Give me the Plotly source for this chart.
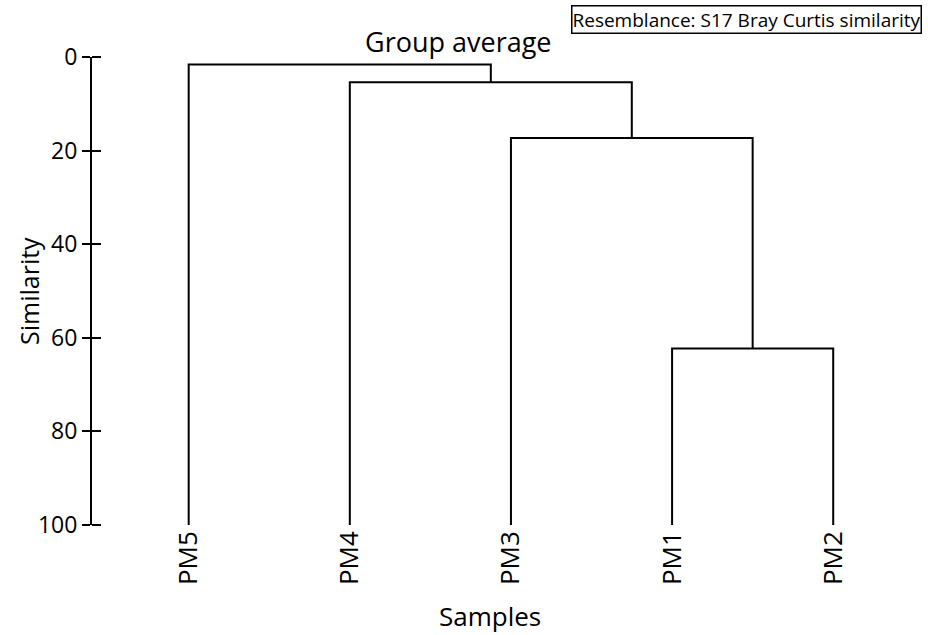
import plotly.graph_objects as go

# ---- data ----
leaves = ["PM5", "PM4", "PM3", "PM1", "PM2"]
# merges: (left member, right member, similarity level)
merge_left = ["PM1", "PM3", "PM4", "PM5"]
merge_right = ["PM2", "C1", "C2", "C3"]
merge_sim = [62.3, 17.3, 5.4, 1.6]
y_ticks = [0, 20, 40, 60, 80, 100]

FONT = "Open Sans"

# positions of nodes
pos = {name: float(i) for i, name in enumerate(leaves)}
height = {name: 100.0 for name in leaves}

fig = go.Figure()
line = dict(color="black", width=2)

for k, (a, b, s) in enumerate(zip(merge_left, merge_right, merge_sim)):
    xa, xb = pos[a], pos[b]
    xs = [xa, xa, xb, xb]
    ys = [height[a], s, s, height[b]]
    fig.add_trace(go.Scatter(x=xs, y=ys, mode="lines", line=line,
                             hoverinfo="skip", showlegend=False))
    cname = "C%d" % (k + 1)
    pos[cname] = (xa + xb) / 2
    height[cname] = s

W, H = 928, 635
ml, mr, mt, mb = 92, 40, 57, 110
pw = W - ml - mr
ph = H - mt - mb

fig.update_layout(
    width=W, height=H,
    margin=dict(l=ml, r=mr, t=mt, b=mb),
    plot_bgcolor="white", paper_bgcolor="white",
    font=dict(family=FONT, color="black"),
    xaxis=dict(
        range=[-0.6, 4.34],
        tickvals=list(range(len(leaves))), ticktext=leaves,
        tickangle=-90, tickfont=dict(size=26, family=FONT),
        showgrid=False, zeroline=False, showline=False, ticks="",
    ),
    yaxis=dict(
        range=[100, 0], tickmode="array", tickvals=y_ticks,
        tickfont=dict(size=23, family=FONT),
        showgrid=False, zeroline=False, showline=True, linecolor="black", linewidth=2,
        ticks="outside", ticklen=8, tickwidth=2, tickcolor="black",
        minor=dict(tickmode="array", tickvals=y_ticks, ticks="inside",
                   ticklen=8, tickwidth=2, tickcolor="black", showgrid=False),
    ),
    yaxis2=dict(
        range=[100, 0], tickmode="array", tickvals=y_ticks, overlaying="y",
        side="right", anchor="free", position=0,
        showticklabels=False, showgrid=False, zeroline=False, showline=False,
        ticks="outside", ticklen=8, tickwidth=2, tickcolor="black",
    ),
)
# invisible trace on yaxis2 to activate it
fig.add_trace(go.Scatter(x=[pos[leaves[0]]], y=[100], yaxis="y2", mode="markers",
                         marker=dict(opacity=0), hoverinfo="skip", showlegend=False))

fig.add_annotation(text="Group average", xref="paper", yref="paper",
                   x=(458 - ml) / pw, y=1, xanchor="center", yanchor="middle",
                   yshift=16, showarrow=False, font=dict(size=27, family=FONT))
fig.add_annotation(text="Samples", xref="paper", yref="paper",
                   x=(490 - ml) / pw, y=0, xanchor="center", yanchor="middle",
                   yshift=-91, showarrow=False, font=dict(size=26, family=FONT))
fig.add_annotation(text="Similarity", xref="paper", yref="paper",
                   x=(29 - ml) / pw, y=0.5, xanchor="center", yanchor="middle",
                   textangle=-90, showarrow=False, font=dict(size=25, family=FONT))
fig.add_annotation(text="Resemblance: S17 Bray Curtis similarity", xref="paper", yref="paper",
                   x=(922 - ml) / pw, y=1 + 52 / ph, xanchor="right", yanchor="top",
                   showarrow=False, font=dict(size=19, family=FONT),
                   bordercolor="black", borderwidth=1.5, borderpad=0, bgcolor="white")

fig.write_html("out.html")
